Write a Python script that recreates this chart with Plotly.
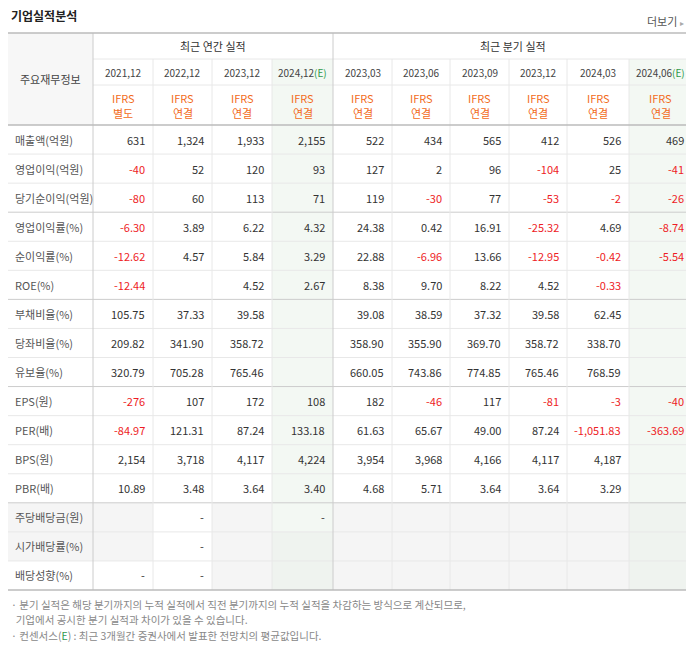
import plotly.graph_objects as go

title = "기업실적분석"
more = "더보기"
group_heads = ["최근 연간 실적", "최근 분기 실적"]
periods = ["2021.12", "2022.12", "2023.12", "2024.12", "2023.03", "2023.06", "2023.09", "2023.12", "2024.03", "2024.06"]
estimate = [False, False, False, True, False, False, False, False, False, True]
ifrs_kind = ["별도", "연결", "연결", "연결", "연결", "연결", "연결", "연결", "연결", "연결"]
row_labels = ["매출액(억원)", "영업이익(억원)", "당기순이익(억원)", "영업이익률(%)", "순이익률(%)", "ROE(%)",
              "부채비율(%)", "당좌비율(%)", "유보율(%)", "EPS(원)", "PER(배)", "BPS(원)", "PBR(배)",
              "주당배당금(원)", "시가배당률(%)", "배당성향(%)"]
values = [
    ["631", "1,324", "1,933", "2,155", "522", "434", "565", "412", "526", "469"],
    ["-40", "52", "120", "93", "127", "2", "96", "-104", "25", "-41"],
    ["-80", "60", "113", "71", "119", "-30", "77", "-53", "-2", "-26"],
    ["-6.30", "3.89", "6.22", "4.32", "24.38", "0.42", "16.91", "-25.32", "4.69", "-8.74"],
    ["-12.62", "4.57", "5.84", "3.29", "22.88", "-6.96", "13.66", "-12.95", "-0.42", "-5.54"],
    ["-12.44", "", "4.52", "2.67", "8.38", "9.70", "8.22", "4.52", "-0.33", ""],
    ["105.75", "37.33", "39.58", "", "39.08", "38.59", "37.32", "39.58", "62.45", ""],
    ["209.82", "341.90", "358.72", "", "358.90", "355.90", "369.70", "358.72", "338.70", ""],
    ["320.79", "705.28", "765.46", "", "660.05", "743.86", "774.85", "765.46", "768.59", ""],
    ["-276", "107", "172", "108", "182", "-46", "117", "-81", "-3", "-40"],
    ["-84.97", "121.31", "87.24", "133.18", "61.63", "65.67", "49.00", "87.24", "-1,051.83", "-363.69"],
    ["2,154", "3,718", "4,117", "4,224", "3,954", "3,968", "4,166", "4,117", "4,187", ""],
    ["10.89", "3.48", "3.64", "3.40", "4.68", "5.71", "3.64", "3.64", "3.29", ""],
    ["", "-", "", "-", "", "", "", "", "", ""],
    ["", "-", "", "", "", "", "", "", "", ""],
    ["-", "-", "", "", "", "", "", "", "", ""],
]
notes = ["· 분기 실적은 해당 분기까지의 누적 실적에서 직전 분기까지의 누적 실적을 차감하는 방식으로 계산되므로,",
         "  기업에서 공시한 분기 실적과 차이가 있을 수 있습니다.",
         "· 컨센서스(E) : 최근 3개월간 증권사에서 발표한 전망치의 평균값입니다."]

FONT = "Noto Sans CJK KR"
L, R = 8, 692
xb = [8, 93, 153, 212, 272, 333, 392, 450, 509, 567, 629, 692]
TOP, H1, H2, HB = 33, 59, 85, 125
RH = (590 - HB) / len(row_labels)
GREEN = "#f3f8f3"
GRAY = "#f5f5f5"
RED = "#ee1c25"
ORANGE = "#f26b21"

shapes, ann = [], []
def rect(x0, y0, x1, y1, fill):
    shapes.append(dict(type="rect", x0=x0, x1=x1, y0=y0, y1=y1, fillcolor=fill, line_width=0, layer="below"))
def line(x0, y0, x1, y1, c, w=1):
    shapes.append(dict(type="line", x0=x0, x1=x1, y0=y0, y1=y1, line=dict(color=c, width=w)))
def text(x, y, s, size=11, color="#333", anchor="center", bold=False):
    ann.append(dict(x=x, y=y, text=f"<b>{s}</b>" if bold else s, showarrow=False, xanchor=anchor, yanchor="middle",
                    font=dict(family=FONT, size=size, color=color)))

rect(xb[0], TOP, xb[1], HB, "#f7f7f7")
for j, e in enumerate(estimate):
    if e:
        rect(xb[j + 1], H1, xb[j + 2], 590, GREEN)
for i, row in enumerate(values):
    y0 = HB + i * RH
    if i >= 13:
        if i < 15:
            rect(xb[0], y0, xb[1], y0 + RH, GRAY)
        for j, v in enumerate(row):
            if v == "":
                rect(xb[j + 1], y0, xb[j + 2], y0 + RH, "#eff3ef" if estimate[j] else GRAY)

for i in range(1, len(row_labels)):
    y = HB + i * RH
    line(L, y, R, y, "#cccccc" if i in (3, 6, 9, 13) else "#e8e8e8")
line(xb[1], H1, R, H1, "#e8e8e8")
line(xb[1], H2, R, H2, "#e8e8e8")
for k, x in enumerate(xb[1:-1], start=1):
    if k in (1, 5):
        line(x, TOP, x, 590, "#cccccc")
    else:
        line(x, H1, x, 590, "#e8e8e8")
line(L, TOP, R, TOP, "#bbbbbb", 1.5)
line(L, HB, R, HB, "#bbbbbb", 1.5)
line(L, 590, R, 590, "#bbbbbb", 1.5)

text(9, 15, title, 12, "#222", "left", True)
text(686, 21, more + " <span style='color:#aaa;font-size:8px'>▸</span>", 11, "#555", "right")
text((xb[0] + xb[1]) / 2, 79, "주요재무정보", 11, "#444")
text((xb[1] + xb[5]) / 2, 46, group_heads[0], 11, "#333")
text((xb[5] + xb[11]) / 2, 46, group_heads[1], 11, "#333")
for j, p in enumerate(periods):
    cx = (xb[j + 1] + xb[j + 2]) / 2
    s = p.replace(".", ",")
    if estimate[j]:
        s += "<span style='color:#2e9a4a'>(E)</span>"
    text(cx, 72, s, 10, "#444")
    text(cx, 98, "IFRS", 11, ORANGE)
    text(cx, 113, ifrs_kind[j], 11, ORANGE)

for i, lab in enumerate(row_labels):
    cy = HB + (i + 0.5) * RH
    text(13, cy, lab, 11, "#555", "left")
    for j, v in enumerate(values[i]):
        if v == "":
            continue
        col = RED if v.startswith("-") and len(v) > 1 else "#333"
        text(xb[j + 2] - 6, cy, v, 11, col, "right")

for k, n in enumerate(notes):
    text(9, 604 + k * 15.5, n.replace("(E)", "(<span style='color:#2e9a4a'>E</span>)"), 10.5, "#888", "left")

# page body has an 8px margin: shift the axis window so page pixel == data pixel
fig = go.Figure()
fig.update_layout(width=686, height=636, margin=dict(l=0, r=0, t=0, b=0),
                  plot_bgcolor="white", paper_bgcolor="white", shapes=shapes, annotations=ann,
                  xaxis=dict(range=[8, 694], visible=False, fixedrange=True),
                  yaxis=dict(range=[644, 8], visible=False, fixedrange=True), showlegend=False)
fig.write_html("out.html", config={"displayModeBar": False})
